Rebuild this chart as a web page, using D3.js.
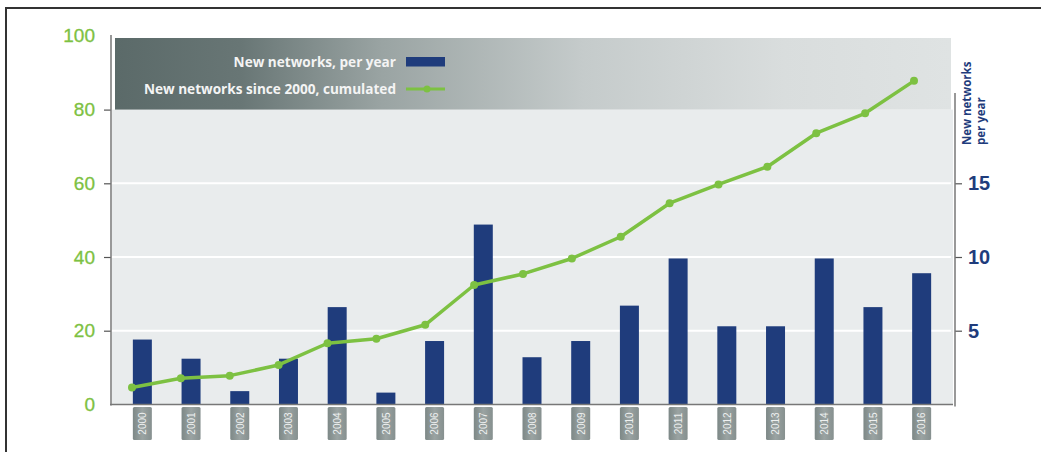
<!DOCTYPE html>
<html><head><meta charset="utf-8">
<script src="https://cdn.jsdelivr.net/npm/d3@7"></script>
<style>
html,body{margin:0;padding:0;background:#fff;}
svg{display:block;}
</style></head>
<body>
<svg id="chart" width="1041" height="452"></svg>
<script>
const years = ["2000","2001","2002","2003","2004","2005","2006","2007","2008","2009","2010","2011","2012","2013","2014","2015","2016"];
const perYear = [4.4, 3.1, 0.9, 3.1, 6.6, 0.8, 4.3, 12.2, 3.2, 4.3, 6.7, 9.9, 5.3, 5.3, 9.9, 6.6, 8.9];
const cumulated = [4.6, 7.1, 7.8, 10.7, 16.6, 17.8, 21.6, 32.4, 35.4, 39.6, 45.5, 54.6, 59.7, 64.5, 73.6, 79.0, 87.8];
const leftTicks = [0, 20, 40, 60, 80, 100];
const rightTicks = [5, 10, 15];
const legendLabels = ["New networks, per year", "New networks since 2000, cumulated"];
const rightTitle = ["New networks", "per year"];

const svg = d3.select("#chart");
const green = "#7dc142", navy = "#1f3c7c";

const plotL = 112, plotR = 953, yBottom = 404.4, yTop = 35.9;
const yLeft = d3.scaleLinear().domain([0, 100]).range([yBottom, yTop]);
const yRight = d3.scaleLinear().domain([0, 25]).range([yBottom, yTop]);
const x = d3.scaleBand().domain(years).range([118, 946]).paddingInner(0.61).paddingOuter(0.305);
const xLine = d3.scalePoint().domain(years).range([132, 914]);

const defs = svg.append("defs");
const lg = defs.append("linearGradient").attr("id", "legbg").attr("x1", "0").attr("x2", "1").attr("y1", "0").attr("y2", "0");
[[0, "#5b6a69"], [0.15, "#687675"], [0.32, "#9aa4a3"], [0.56, "#c5cbcb"], [0.8, "#d9dddd"], [1, "#dfe3e3"]]
  .forEach(([o, c]) => lg.append("stop").attr("offset", o).attr("stop-color", c));
const tg = defs.append("linearGradient").attr("id", "tagbg").attr("x1", "0").attr("x2", "1").attr("y1", "0").attr("y2", "0");
[[0, "#7d8887"], [0.5, "#9aa3a2"], [1, "#86908f"]].forEach(([o, c]) => tg.append("stop").attr("offset", o).attr("stop-color", c));

// outer frame
svg.append("path").attr("d", "M6,452 L6,8 L1041,8").attr("fill", "none").attr("stroke", "#333").attr("stroke-width", 2);

// plot background
svg.append("rect").attr("x", plotL).attr("y", yLeft(80)).attr("width", plotR - plotL).attr("height", yBottom - yLeft(80)).attr("fill", "#e9eced");
// legend box
svg.append("rect").attr("x", 115).attr("y", 38).attr("width", plotR - 115 - 2).attr("height", yLeft(80) - 38).attr("fill", "url(#legbg)");

// white gridlines
svg.append("g").selectAll("line").data([20, 40, 60]).join("line")
  .attr("x1", plotL).attr("x2", plotR - 2).attr("y1", d => yLeft(d)).attr("y2", d => yLeft(d))
  .attr("stroke", "#fff").attr("stroke-width", 2);

// bars
svg.append("g").selectAll("rect").data(years).join("rect")
  .attr("x", d => x(d)).attr("width", x.bandwidth())
  .attr("y", (d, i) => yRight(perYear[i])).attr("height", (d, i) => yBottom - yRight(perYear[i]))
  .attr("fill", navy);

// bottom line
svg.append("line").attr("x1", 110).attr("x2", plotR).attr("y1", yBottom).attr("y2", yBottom).attr("stroke", "#777").attr("stroke-width", 1.5);

// cumulative line
const line = d3.line().x((d, i) => xLine(years[i])).y(d => yLeft(d));
svg.append("path").datum(cumulated).attr("d", line).attr("fill", "none").attr("stroke", green).attr("stroke-width", 3.5).attr("stroke-linejoin", "round");
svg.append("g").selectAll("circle").data(cumulated).join("circle")
  .attr("cx", (d, i) => xLine(years[i])).attr("cy", d => yLeft(d)).attr("r", 4).attr("fill", green);

// left axis
const gl = svg.append("g").attr("transform", "translate(111,0)")
  .call(d3.axisLeft(yLeft).tickValues(leftTicks).tickSize(7).tickPadding(9).tickFormat(d3.format("d")));
gl.select(".domain").remove();
gl.selectAll(".tick line").attr("stroke", "#555").attr("stroke-width", 1.2).filter(d => d === 0 || d === 100).remove();
gl.selectAll(".tick text").attr("fill", green).attr("font-family", "Liberation Sans, Arial, sans-serif").attr("font-size", 19)
  .attr("stroke", green).attr("stroke-width", 0.3);
svg.append("line").attr("x1", 111).attr("x2", 111).attr("y1", 35).attr("y2", yBottom + 1).attr("stroke", "#777").attr("stroke-width", 1.5);

// right axis
const gr = svg.append("g").attr("transform", "translate(955,0)")
  .call(d3.axisRight(yRight).tickValues(rightTicks).tickSize(7).tickPadding(6));
gr.select(".domain").remove();
gr.selectAll(".tick line").attr("stroke", "#555").attr("stroke-width", 1.2);
gr.selectAll(".tick text").attr("fill", navy).attr("font-family", "Liberation Sans, Arial, sans-serif").attr("font-weight", "bold").attr("font-size", 20);
svg.append("line").attr("x1", 955).attr("x2", 955).attr("y1", 93).attr("y2", yBottom + 2).attr("stroke", "#777").attr("stroke-width", 1.5);

// right title
rightTitle.forEach((t, i) => {
  svg.append("text").attr("transform", `translate(${971 + i * 14},145) rotate(-90)`)
    .attr("fill", navy).attr("font-family", "Open Sans, sans-serif").attr("font-weight", "bold").attr("font-size", 11.5)
    .text(t);
});

// legend
const leg = svg.append("g");
legendLabels.forEach((t, i) => {
  leg.append("text").attr("x", 396).attr("y", 66.5 + i * 27).attr("text-anchor", "end")
    .attr("fill", "#f4f4f4").attr("font-family", "Open Sans, sans-serif").attr("font-weight", "bold").attr("font-size", 13.6)
    .text(t);
});
leg.append("rect").attr("x", 406).attr("y", 57).attr("width", 39).attr("height", 9.5).attr("fill", navy);
leg.append("line").attr("x1", 406).attr("x2", 445).attr("y1", 89).attr("y2", 89).attr("stroke", green).attr("stroke-width", 3);
leg.append("circle").attr("cx", 427).attr("cy", 89).attr("r", 3.5).attr("fill", green);

// x labels (tags)
const tags = svg.append("g").selectAll("g").data(years).join("g")
  .attr("transform", d => `translate(${x(d) + x.bandwidth() / 2},407)`);
tags.append("rect").attr("x", -9.5).attr("y", 0).attr("width", 19).attr("height", 33).attr("rx", 1.5).attr("fill", "url(#tagbg)");
tags.append("text").attr("transform", "translate(3.8,16.5) rotate(-90)").attr("text-anchor", "middle")
  .attr("fill", "#eef0f0").attr("font-family", "Liberation Sans, Arial, sans-serif").attr("font-size", 10)
  .text(d => d);
</script>
</body></html>
